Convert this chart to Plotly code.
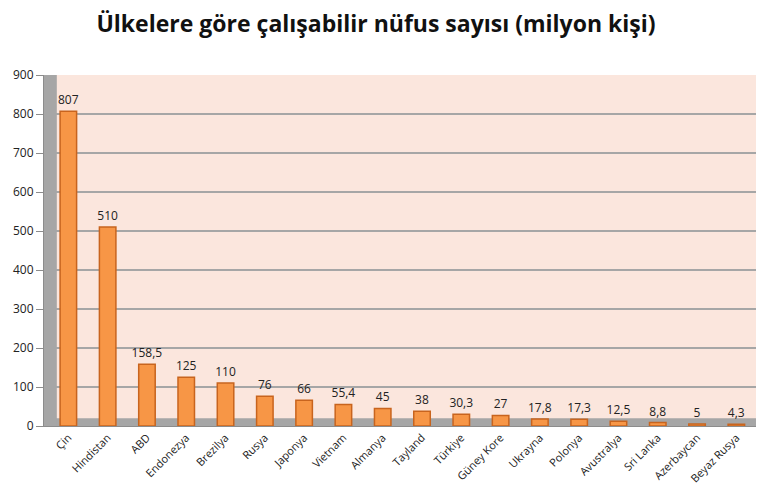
import plotly.graph_objects as go

countries = ["Çin", "Hindistan", "ABD", "Endonezya", "Brezilya", "Rusya", "Japonya",
             "Vietnam", "Almanya", "Tayland", "Türkiye", "Güney Kore", "Ukrayna",
             "Polonya", "Avustralya", "Sri Lanka", "Azerbaycan", "Beyaz Rusya"]
workforce = [807, 510, 158.5, 125, 110, 76, 66, 55.4, 45, 38, 30.3, 27, 17.8,
             17.3, 12.5, 8.8, 5, 4.3]
y_ticks = [0, 100, 200, 300, 400, 500, 600, 700, 800, 900]

labels = [f"{v:g}".replace(".", ",") for v in workforce]

fig = go.Figure(go.Bar(
    x=countries, y=workforce, text=labels, textposition="outside",
    constraintext="none",
    textfont=dict(size=12, color="#222222", family="Open Sans"),
    marker=dict(color="#F79646", line=dict(color="#C8641E", width=1.5)),
    width=0.42, cliponaxis=False,
))

# 3D-style floor and side wall decoration
fig.add_shape(type="rect", xref="paper", yref="y", x0=0, x1=1, y0=0, y1=20,
              fillcolor="#A6A6A6", line=dict(width=0), layer="below")
fig.add_shape(type="rect", xref="paper", yref="paper", x0=0, x1=0.018, y0=0, y1=1,
              fillcolor="#A6A6A6", line=dict(width=0), layer="below")

# The page body has an 8px margin, so the figure is sized to fit inside the window.
fig.update_layout(
    width=748, height=481,
    title=dict(text="<b>Ülkelere göre çalışabilir nüfus sayısı (milyon kişi)</b>",
               x=0.492, xanchor="center", y=0.966, yanchor="middle",
               font=dict(size=23, color="#111111", family="Open Sans")),
    margin=dict(l=36, r=0, t=67, b=63, autoexpand=False),
    plot_bgcolor="#FBE6DD", paper_bgcolor="white",
    showlegend=False,
)
fig.update_yaxes(range=[0, 900], tickvals=y_ticks, showgrid=True,
                 gridcolor="#A6A6A6", gridwidth=2, showline=True,
                 linecolor="#8C8C8C", linewidth=1, ticks="outside", ticklen=7,
                 tickcolor="#8C8C8C", zeroline=False, automargin=False,
                 tickfont=dict(size=12, color="#222222", family="Open Sans"))
fig.update_xaxes(range=[-0.62, 17.5], tickangle=-45, showline=True,
                 linecolor="#8C8C8C", linewidth=1,
                 ticks="outside", ticklen=0, automargin=False,
                 tickfont=dict(size=11, color="#222222", family="Open Sans"))

fig.write_html("out.html")
